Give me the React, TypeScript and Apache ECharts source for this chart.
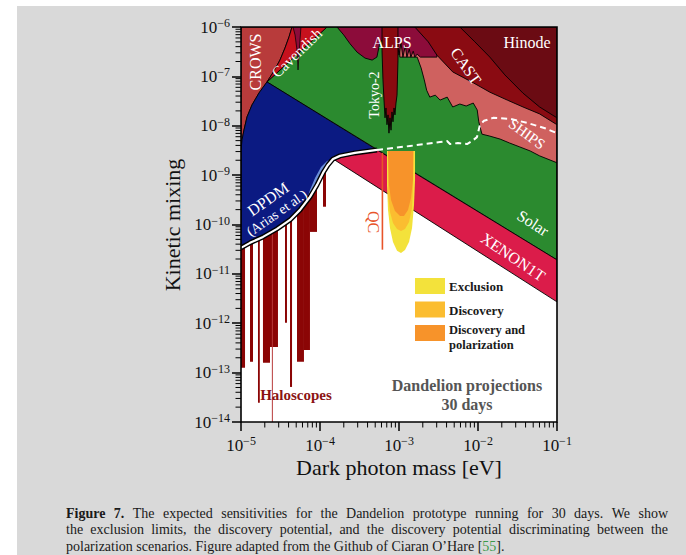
import React, { useEffect, useRef } from "react";
import * as echarts from "echarts";

const SERIF = '"Liberation Serif", "DejaVu Serif", serif';

// ---------- axes ----------
const X_MIN = 1e-5;
const X_MAX = 1e-1;
const Y_MIN = 1e-14;
const Y_MAX = 1e-6;
const tickMantissas = [2, 3, 4, 5, 6, 7, 8, 9];
const xDecades = [1e-5, 1e-4, 1e-3, 1e-2];
const yDecades = [1e-14, 1e-13, 1e-12, 1e-11, 1e-10, 1e-9, 1e-8, 1e-7];

// ---------- regions: points are [log10(mass / eV), log10(kinetic mixing)] ----------
const hinode = [[-2.23, -6.0], [-2.04, -6.3], [-1.85, -6.61], [-1.66, -6.97], [-1.43, -7.34], [-1.22, -7.62], [-1.0, -7.84], [-1.0, -6.0]];
const cast = [[-2.8, -6.0], [-2.63, -6.3], [-2.52, -6.57], [-2.32, -6.91], [-2.06, -7.13], [-1.85, -7.32], [-1.63, -7.48], [-1.43, -7.62], [-1.22, -7.76], [-1.0, -7.98], [-1.0, -6.0]];
const ships = [[-2.99, -6.61], [-2.77, -6.61], [-2.72, -6.83], [-2.68, -7.07], [-2.65, -7.28], [-2.61, -7.42], [-2.54, -7.38], [-2.48, -7.48], [-2.39, -7.42], [-2.32, -7.62], [-2.23, -7.56], [-2.15, -7.6], [-2.06, -7.54], [-2.01, -7.68], [-1.99, -7.92], [-1.95, -8.17], [-1.85, -8.21], [-1.72, -8.27], [-1.6, -8.35], [-1.47, -8.43], [-1.34, -8.51], [-1.22, -8.61], [-1.0, -8.75], [-1.0, -6.0], [-2.99, -6.0]];
const alps = [[-3.785, -6.0], [-3.7, -6.16], [-3.62, -6.34], [-3.53, -6.51], [-3.43, -6.63], [-3.34, -6.67], [-3.28, -6.61], [-3.24, -6.3], [-3.2, -6.26], [-3.025, -6.26], [-3.0, -6.57], [-2.975, -6.32], [-2.95, -6.61], [-2.92, -6.38], [-2.9, -6.61], [-2.87, -6.45], [-2.85, -6.61], [-2.82, -6.49], [-2.8, -6.61], [-2.77, -6.55], [-2.73, -6.61], [-2.52, -6.61], [-2.52, -6.0]];
const tokyo2 = [[-3.215, -6.0], [-3.013, -6.0], [-3.013, -6.67], [-3.025, -7.38], [-3.038, -7.54], [-3.051, -7.78], [-3.063, -7.64], [-3.076, -7.92], [-3.089, -7.72], [-3.101, -8.09], [-3.114, -7.84], [-3.127, -8.15], [-3.139, -7.78], [-3.152, -7.98], [-3.165, -7.64], [-3.177, -7.84], [-3.19, -7.48], [-3.203, -7.07], [-3.215, -6.47]];
const solarGreen = [[-4.671, -7.113], [-3.911, -6.0], [-1.0, -6.0], [-1.0, -10.717]];
const crows = [[-5.0, -6.0], [-4.354, -6.0], [-4.392, -6.2], [-4.443, -6.425], [-4.506, -6.668], [-4.582, -6.891], [-4.671, -7.113], [-4.772, -7.336], [-4.861, -7.579], [-4.924, -7.822], [-4.962, -8.085], [-4.987, -8.287], [-5.0, -8.49]];
const cavendish = [[-4.354, -6.0], [-3.911, -6.0], [-4.671, -7.113], [-4.582, -6.891], [-4.506, -6.668], [-4.443, -6.425], [-4.392, -6.2]];
const cavendishStreak = [[-4.342, -6.0], [-4.241, -6.0], [-4.253, -6.26], [-4.266, -6.57], [-4.278, -6.87], [-4.291, -6.47], [-4.316, -6.16]];
const dpdm = [[-5.0, -8.49], [-4.987, -8.287], [-4.962, -8.085], [-4.924, -7.822], [-4.861, -7.579], [-4.772, -7.336], [-4.671, -7.113], [-3.278, -8.49], [-3.557, -8.55], [-3.747, -8.61], [-3.835, -8.672], [-3.899, -8.794], [-3.962, -8.955], [-4.038, -9.198], [-4.127, -9.441], [-4.253, -9.704], [-4.38, -9.907], [-4.544, -10.089], [-4.722, -10.251], [-4.886, -10.372], [-5.0, -10.474]];
const dpdmEdge = [[-3.278, -8.49], [-3.557, -8.55], [-3.747, -8.61], [-3.835, -8.672], [-3.899, -8.794], [-3.962, -8.955], [-4.038, -9.198], [-4.127, -9.441], [-4.253, -9.704], [-4.38, -9.907], [-4.544, -10.089], [-4.722, -10.251], [-4.886, -10.372], [-5.0, -10.474]];
const dpdmLightBlue = [[-4.177, -9.563], [-4.127, -9.3], [-4.063, -9.057], [-3.987, -8.834], [-3.911, -8.713], [-3.835, -8.672], [-3.899, -8.794], [-3.962, -8.955], [-4.038, -9.198], [-4.127, -9.441]];
const xenon1t = [[-3.835, -8.672], [-3.278, -8.49], [-1.0, -10.717], [-1.0, -11.567]];
// haloscope bars: [log10 m start, log10 m end, log10 lowest mixing]
const haloscopeBars = [[-5.0, -4.949, -12.9], [-4.886, -4.848, -12.78], [-4.785, -4.762, -13.61], [-4.722, -4.633, -12.8], [-4.633, -4.532, -12.48], [-4.443, -4.418, -11.99], [-4.38, -4.354, -13.29], [-4.291, -4.203, -12.78], [-4.203, -4.127, -12.54], [-4.127, -4.038, -10.15], [-3.962, -3.924, -9.64]];
const haloscopeThin = [[-4.603, -8.4], [-4.603, -14.0]];
const shipsDashed = [[-3.278, -8.49], [-2.861, -8.41], [-2.481, -8.33], [-2.392, -8.31], [-2.354, -8.37], [-2.253, -8.35], [-2.139, -8.37], [-2.076, -8.31], [-2.013, -8.23], [-1.975, -7.98], [-1.924, -7.9], [-1.81, -7.84], [-1.595, -7.86], [-1.38, -7.94], [-1.152, -8.05], [-1.0, -8.15]];
const qcLine = [[-3.21, -8.55], [-3.21, -10.51]];
// Dandelion projections (30 days)
const exclusion = [[-3.152, -8.51], [-3.152, -9.198], [-3.139, -9.704], [-3.114, -10.069], [-3.076, -10.352], [-3.025, -10.534], [-2.975, -10.575], [-2.924, -10.514], [-2.873, -10.352], [-2.835, -10.069], [-2.81, -9.603], [-2.797, -9.097], [-2.797, -8.51]];
const discovery = [[-3.139, -8.51], [-3.139, -9.401], [-3.114, -9.745], [-3.076, -9.968], [-3.025, -10.089], [-2.975, -10.13], [-2.924, -10.089], [-2.873, -9.947], [-2.835, -9.664], [-2.823, -9.3], [-2.81, -8.51]];
const discoveryPolarization = [[-3.139, -8.51], [-3.127, -9.198], [-3.101, -9.502], [-3.051, -9.725], [-2.987, -9.826], [-2.937, -9.826], [-2.886, -9.704], [-2.848, -9.462], [-2.823, -9.097], [-2.823, -8.51]];

const legendItems = [
  { name: "Exclusion", color: "#f3e23b" },
  { name: "Discovery", color: "#fbbd30" },
  { name: "Discovery and\npolarization", color: "#f7932a" },
];

const C = {
  hinode: "#6b0b13",
  cast: "#8a0b12",
  alps: "#8c0c3a",
  ships: "#cf615f",
  green: "#2b8a2f",
  crows: "#b83b3b",
  cavendish: "#c6111d",
  tokyo: "#8a0a10",
  blue: "#0b1a82",
  lightBlue: "#6a8ed8",
  xenon: "#db1c4a",
  halo: "#8b0505",
  qc: "#e8542a",
};

type Shape = { pts: number[][]; fill?: string; stroke?: string; lw?: number; dash?: number[]; open?: boolean };

const shapes: Shape[] = [
  ...haloscopeBars.map(([a, b, c]) => ({ pts: [[a, -8.4], [b, -8.4], [b, c], [a, c]], fill: C.halo })),
  { pts: haloscopeThin, open: true, stroke: "#b83a3a", lw: 1 },
  { pts: solarGreen, fill: C.green, stroke: "#000", lw: 0.9 },
  { pts: ships, fill: C.ships, stroke: "#000", lw: 0.9 },
  { pts: alps, fill: C.alps, stroke: "#000", lw: 0.9 },
  { pts: cast, fill: C.cast, stroke: "#000", lw: 0.9 },
  { pts: hinode, fill: C.hinode, stroke: "#000", lw: 0.9 },
  { pts: tokyo2, fill: C.tokyo, stroke: "#000", lw: 0.9 },
  { pts: crows, fill: C.crows, stroke: "#000", lw: 0.9 },
  { pts: cavendish, fill: C.cavendish, stroke: "#000", lw: 0.9 },
  { pts: cavendishStreak, fill: C.alps, stroke: "#000", lw: 0.7 },
  { pts: dpdm, fill: C.blue, stroke: "#000", lw: 0.9 },
  { pts: dpdmLightBlue, fill: C.lightBlue },
  { pts: xenon1t, fill: C.xenon, stroke: "#000", lw: 0.9 },
  { pts: exclusion, fill: legendItems[0].color },
  { pts: discovery, fill: legendItems[1].color },
  { pts: discoveryPolarization, fill: legendItems[2].color },
  { pts: qcLine, open: true, stroke: C.qc, lw: 1.6 },
  { pts: dpdmEdge, open: true, stroke: "#000", lw: 5 },
  { pts: dpdmEdge, open: true, stroke: "#fff", lw: 2.2 },
  { pts: shipsDashed, open: true, stroke: "#fff", lw: 2, dash: [6, 4] },
];

const regionLabels = [
  { text: "CROWS", x: 255, y: 62, rot: 90, size: 16 },
  { text: "Cavendish", x: 297, y: 53, rot: 44, size: 15 },
  { text: "ALPS", x: 392, y: 42, rot: 0, size: 16 },
  { text: "Hinode", x: 527, y: 42, rot: 0, size: 16 },
  { text: "CAST", x: 466, y: 66, rot: -55, size: 16 },
  { text: "SHIPS", x: 527, y: 134, rot: -36, size: 15 },
  { text: "Tokyo-2", x: 374, y: 95, rot: 90, size: 14 },
  { text: "Solar", x: 533, y: 223, rot: -33, size: 16 },
  { text: "XENON1T", x: 513, y: 257, rot: -34, size: 16 },
  { text: "DPDM", x: 268, y: 199, rot: 35, size: 16 },
  { text: "(Arias et al.)", x: 277, y: 213, rot: 35, size: 14 },
];

const captionLine1 = [["Figure", 1], ["7.", 1], ["The"], ["expected"], ["sensitivities"], ["for"], ["the"], ["Dandelion"], ["prototype"], ["running"], ["for"], ["30"], ["days."], ["We"], ["show"]];
const captionLine2 = "the exclusion limits, the discovery potential, and the discovery potential discriminating between the";
const captionLine3 = "polarization scenarios. Figure adapted from the Github of Ciaran O\u2019Hare [";

const toVal = (p: number[]) => [Math.pow(10, p[0]), Math.pow(10, p[1])];
const expLabel = (v: number) => "{b|10}{s|\u2212" + Math.abs(Math.round(Math.log10(v))) + "}";

export default function App() {
  const ref = useRef<HTMLDivElement>(null);
  useEffect(() => {
    document.body.style.margin = "0";
    const chart = echarts.init(ref.current!, null, { renderer: "svg" });

    const ctx = document.createElement("canvas").getContext("2d")!;
    const CAP = 14;
    const capFont = (bold?: boolean) => (bold ? "bold " : "") + CAP + 'px "Liberation Serif"';
    const measure = (t: string, f: string) => {
      ctx.font = f;
      return ctx.measureText(t).width;
    };
    const justify = (words: { t: string; bold?: boolean }[], x0: number, x1: number, y: number) => {
      const ws = words.map((w) => measure(w.t, capFont(w.bold)));
      const total = ws.reduce((a, b) => a + b, 0);
      const gap = (x1 - x0 - total) / (words.length - 1);
      let x = x0;
      return words.map((w, i) => {
        const el = {
          type: "text",
          x,
          y,
          z: 50,
          silent: true,
          style: { text: w.t, font: capFont(w.bold), fill: "#1a1a1a", align: "left", verticalAlign: "middle" },
        };
        x += ws[i] + gap;
        return el;
      });
    };

    const rich = {
      b: { fontSize: 17, fontFamily: SERIF, color: "#111", lineHeight: 20 },
      s: { fontSize: 12, fontFamily: SERIF, color: "#111", lineHeight: 12, verticalAlign: "top" },
    };

    const textEl = (text: string, x: number, y: number, rot: number, font: string, fill: string, extra: any = {}) => ({
      type: "text",
      x,
      y,
      rotation: (rot * Math.PI) / 180,
      z: 50,
      silent: true,
      style: { text, font, fill, align: "center", verticalAlign: "middle", ...extra },
    });

    const legendY = [286, 310, 337];
    const elements: any[] = [
      { type: "rect", shape: { x: 0, y: 0, width: 686, height: 6 }, style: { fill: "#fff" }, z: 1, silent: true },
      { type: "rect", shape: { x: 0, y: 0, width: 17, height: 555 }, style: { fill: "#fff" }, z: 1, silent: true },
      { type: "rect", shape: { x: 241, y: 27, width: 316, height: 395 }, style: { fill: "none", stroke: "#000", lineWidth: 1.6 }, z: 60, silent: true },
      ...regionLabels.map((l) => textEl(l.text, l.x, l.y, l.rot, `${l.size}px ${SERIF}`, "#fff")),
      textEl("QC", 373, 222, -90, `16px ${SERIF}`, C.qc),
      textEl("Haloscopes", 296, 395, 0, `bold 15px ${SERIF}`, "#8b1414"),
      textEl("Dandelion projections", 467, 385, 0, `bold 16px ${SERIF}`, "#555"),
      textEl("30 days", 467, 404, 0, `bold 16px ${SERIF}`, "#555"),
      textEl("Kinetic mixing", 172, 225, 90, `22px ${SERIF}`, "#111"),
      textEl("Dark photon mass [eV]", 399, 467, 0, `22px ${SERIF}`, "#111"),
      ...legendItems.flatMap((it, i) => [
        { type: "rect", shape: { x: 415, y: 278 + i * 23.5, width: 30, height: 16 }, style: { fill: it.color }, z: 50, silent: true },
        {
          type: "text",
          x: 449,
          y: legendY[i],
          z: 50,
          silent: true,
          style: {
            text: it.name,
            font: `bold ${i === 2 ? 12.5 : 13}px ${SERIF}`,
            fill: "#1a1a1a",
            align: "left",
            verticalAlign: "middle",
            lineHeight: 15,
          },
        },
      ]),
      ...justify(captionLine1.map((w) => ({ t: w[0] as string, bold: !!w[1] })), 66, 668, 513),
      ...justify(captionLine2.split(" ").map((t) => ({ t })), 66, 668, 529),
      {
        type: "text",
        x: 66,
        y: 546,
        z: 50,
        silent: true,
        style: {
          text: "{n|" + captionLine3 + "}{g|55}{n|].}",
          align: "left",
          verticalAlign: "middle",
          rich: {
            n: { fontSize: CAP, fontFamily: '"Liberation Serif"', fill: "#1a1a1a", color: "#1a1a1a" },
            g: { fontSize: CAP, fontFamily: '"Liberation Serif"', fill: "#3a9a4a", color: "#3a9a4a" },
          },
        },
      },
    ];

    const option: any = {
      animation: false,
      backgroundColor: "#d9d9d9",
      grid: { left: 241, top: 27, width: 316, height: 395, show: true, backgroundColor: "#fff", borderWidth: 0 },
      xAxis: {
        type: "log",
        logBase: 10,
        min: X_MIN,
        max: X_MAX,
        splitNumber: 4,
        z: 10,
        axisLine: { show: false },
        splitLine: { show: false },
        axisTick: { show: true, length: 9, lineStyle: { color: "#000", width: 1.5 } },
        axisLabel: { formatter: expLabel, rich, margin: 13 },
      },
      yAxis: {
        type: "log",
        logBase: 10,
        min: Y_MIN,
        max: Y_MAX,
        splitNumber: 8,
        z: 10,
        axisLine: { show: false },
        splitLine: { show: false },
        axisTick: { show: true, length: 9, lineStyle: { color: "#000", width: 1.5 } },
        axisLabel: { formatter: expLabel, rich, margin: 11 },
      },
      graphic: { elements },
      series: [
        {
          type: "custom",
          clip: true,
          z: 2,
          data: shapes.map(() => [1e-3, 1e-10]),
          renderItem: (params: any, api: any) => {
            const s = shapes[params.dataIndex];
            const points = s.pts.map((p) => api.coord(toVal(p)));
            if (s.open) {
              return {
                type: "polyline",
                z2: params.dataIndex,
                shape: { points },
                style: { fill: "none", stroke: s.stroke, lineWidth: s.lw, lineDash: s.dash, lineJoin: "round" },
              };
            }
            return {
              type: "polygon",
              z2: params.dataIndex,
              shape: { points },
              style: { fill: s.fill, stroke: s.stroke || "none", lineWidth: s.lw || 0, lineJoin: "round" },
            };
          },
        },
        {
          type: "custom",
          clip: false,
          z: 8,
          data: yDecades.flatMap((d) => tickMantissas.map((m) => [X_MIN, m * d])),
          renderItem: (params: any, api: any) => {
            const c = api.coord([api.value(0), api.value(1)]);
            return { type: "line", shape: { x1: c[0] - 5.5, y1: c[1], x2: c[0], y2: c[1] }, style: { stroke: "#000", lineWidth: 1 } };
          },
        },
        {
          type: "custom",
          clip: false,
          z: 8,
          data: xDecades.flatMap((d) => tickMantissas.map((m) => [m * d, Y_MIN])),
          renderItem: (params: any, api: any) => {
            const c = api.coord([api.value(0), api.value(1)]);
            return { type: "line", shape: { x1: c[0], y1: c[1], x2: c[0], y2: c[1] + 5.5 }, style: { stroke: "#000", lineWidth: 1 } };
          },
        },
      ],
    };
    chart.setOption(option);
    return () => chart.dispose();
  }, []);
  return <div ref={ref} style={{ width: 686, height: 555 }} />;
}
